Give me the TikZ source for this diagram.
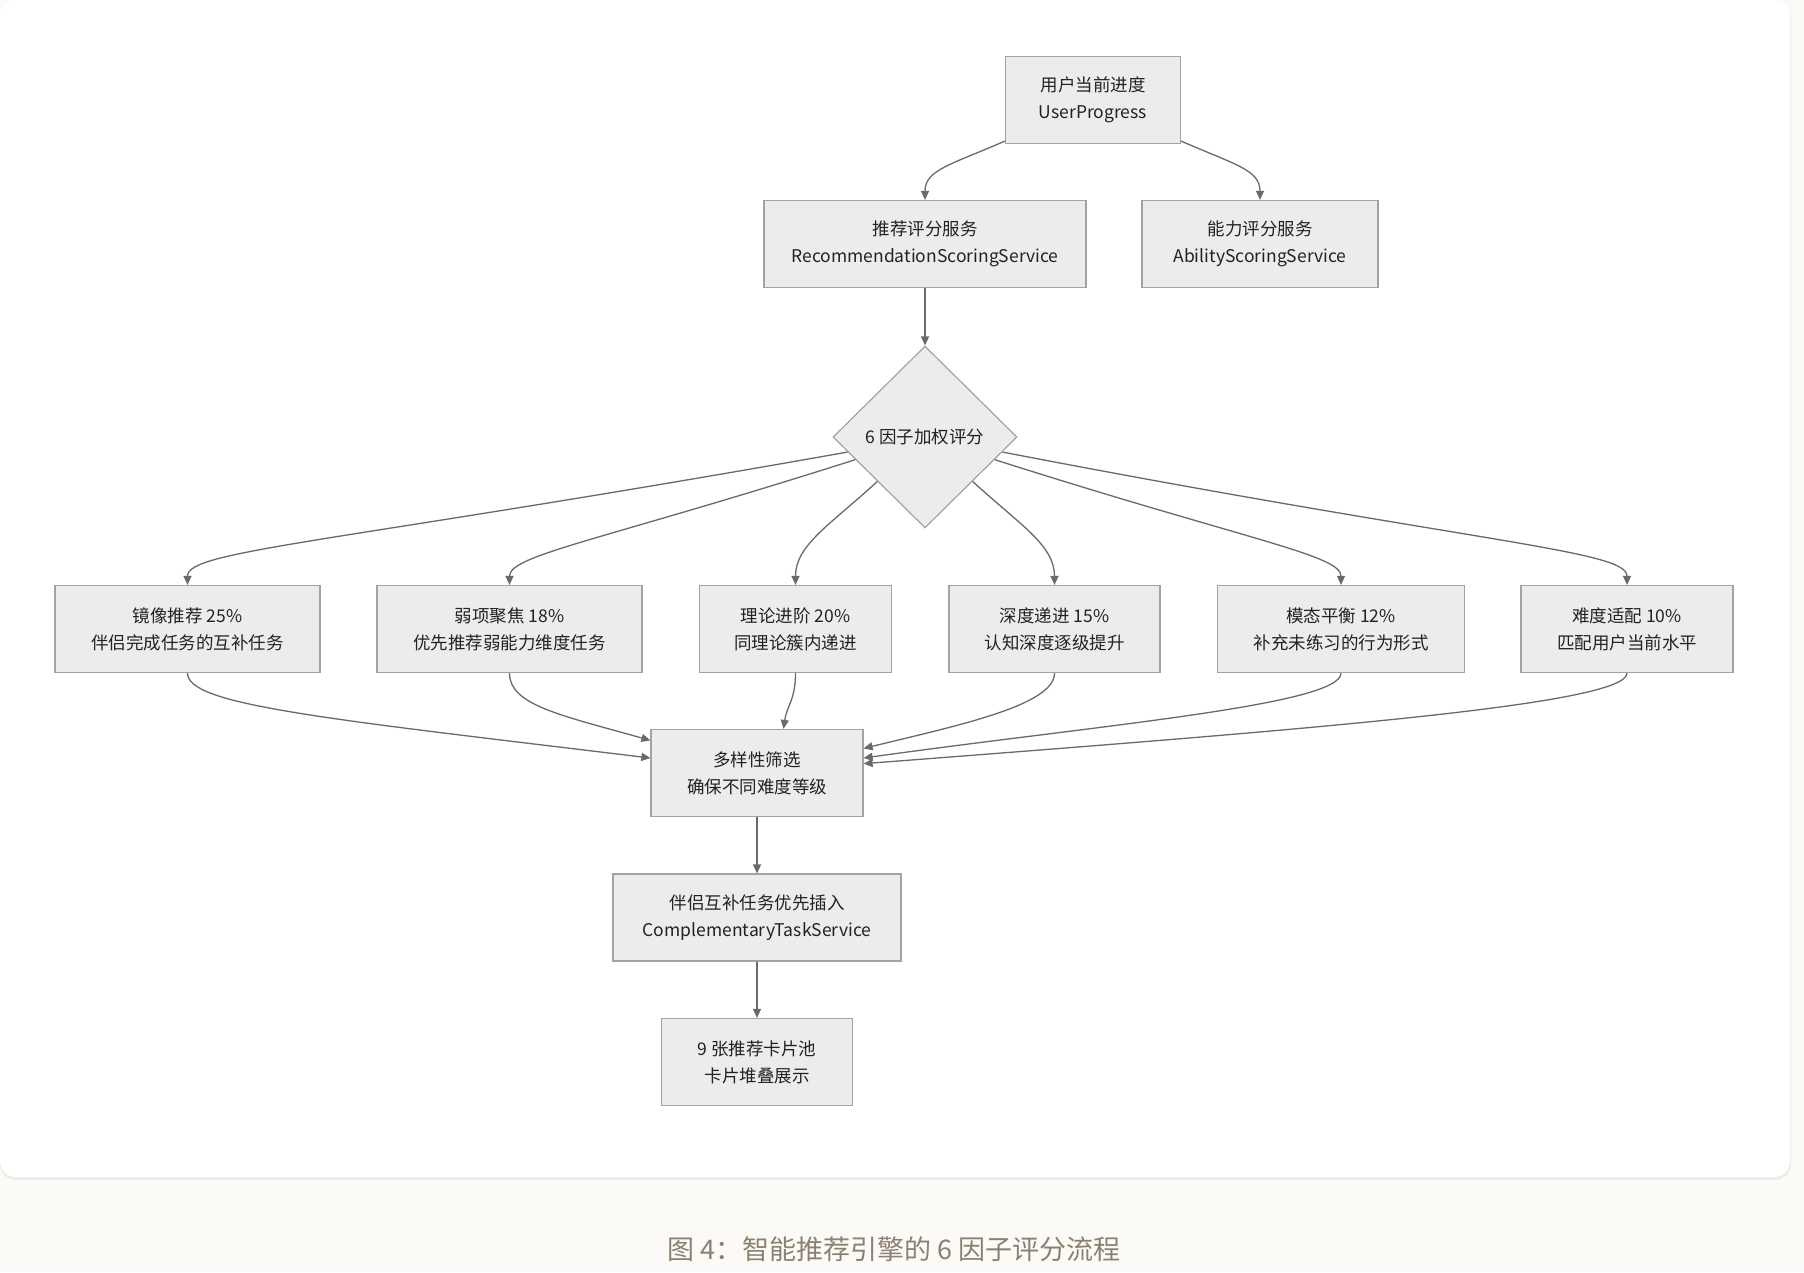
\documentclass[tikz,border=0pt]{standalone}
\usepackage{fontspec}
\setmainfont{Noto Sans CJK SC}
\usetikzlibrary{shapes.geometric,arrows.meta}
\definecolor{pagebg}{HTML}{FBFAF7}
\definecolor{cardshadow}{HTML}{EFECE6}
\definecolor{nodefill}{HTML}{ECECEC}
\definecolor{nodeline}{HTML}{A3A3A3}
\definecolor{nodetext}{HTML}{222222}
\definecolor{edgecol}{HTML}{6A6A6A}
\definecolor{captext}{HTML}{8C8070}
\begin{document}
\begin{tikzpicture}[x=1pt,y=-1pt,
  box/.style={draw=nodeline, fill=nodefill, line width=1.2pt, align=center,
    inner xsep=16pt, minimum height=87pt, text=nodetext,
    font=\fontsize{17.5}{27}\selectfont},
  decision/.style={diamond, draw=nodeline, fill=nodefill, line width=1.2pt,
    inner sep=0pt, minimum width=184pt, minimum height=182pt, text=nodetext,
    font=\fontsize{17.5}{27}\selectfont},
  arr/.style={draw=edgecol, line width=1.3pt, -{Triangle[length=9pt,width=8pt]}}]
\useasboundingbox [fill=pagebg] (0,0) rectangle (1804,1272);
\fill [cardshadow, rounded corners=16pt] (0,3) rectangle (1791,1180);
\fill [white, rounded corners=16pt] (0,0) rectangle (1790,1177);

\node [box, minimum width=175pt] (up) at (1093,100) {用户当前进度\\UserProgress};
\node [box, minimum width=322pt] (rs) at (925,244) {推荐评分服务\\RecommendationScoringService};
\node [box, minimum width=236pt] (as) at (1260,244) {能力评分服务\\AbilityScoringService};
\node [decision] (d) at (925,437) {6 因子加权评分};
\node [box, minimum width=265pt] (f1) at (187.5,629) {镜像推荐 25\%\\伴侣完成任务的互补任务};
\node [box, minimum width=265pt] (f2) at (509.5,629) {弱项聚焦 18\%\\优先推荐弱能力维度任务};
\node [box, minimum width=192pt] (f3) at (795.5,629) {理论进阶 20\%\\同理论簇内递进};
\node [box, minimum width=211pt] (f4) at (1054.5,629) {深度递进 15\%\\认知深度逐级提升};
\node [box, minimum width=247pt] (f5) at (1341,629) {模态平衡 12\%\\补充未练习的行为形式};
\node [box, minimum width=212pt] (f6) at (1627,629) {难度适配 10\%\\匹配用户当前水平};
\node [box, minimum width=212pt] (div) at (757,773) {多样性筛选\\确保不同难度等级};
\node [box, minimum width=288pt] (ct) at (757,917.5) {伴侣互补任务优先插入\\ComplementaryTaskService};
\node [box, minimum width=191pt] (pool) at (757,1062) {9 张推荐卡片池\\卡片堆叠展示};
\node [text=captext, font=\fontsize{27}{30}\selectfont] (cap) at (894,1249) {图 4：智能推荐引擎的 6 因子评分流程};

\draw [arr] (up.205) .. controls (950,165) and (925,170) .. (rs.north);
\draw [arr] (up.335) .. controls (1236,165) and (1260,170) .. (as.north);
\draw [arr] (rs) -- (d);
\draw [arr] (d.191) .. controls (330,544) and (187.5,550) .. (f1.north);
\draw [arr] (d.198) .. controls (600,541) and (509.5,555) .. (f2.north);
\draw [arr] (d.223) .. controls (830,525) and (795.5,545) .. (f3.north);
\draw [arr] (d.317) .. controls (1020,525) and (1054.5,545) .. (f4.north);
\draw [arr] (d.342) .. controls (1250,541) and (1341,555) .. (f5.north);
\draw [arr] (d.349) .. controls (1480,544) and (1627,550) .. (f6.north);
\draw [arr] (f1.south) .. controls (187.5,705) and (320,718) .. (div.172);
\draw [arr] (f2.south) .. controls (509.5,705) and (560,715) .. (div.163);
\draw [arr] (f3.south) .. controls (795.5,700) and (787,705) .. (div.59);
\draw [arr] (f4.south) .. controls (1054.5,705) and (960,725) .. (div.13);
\draw [arr] (f5.south) .. controls (1341,705) and (1100,725) .. (div.8);
\draw [arr] (f6.south) .. controls (1627,705) and (1300,730) .. (div.5);
\draw [arr] (div) -- (ct);
\draw [arr] (ct) -- (pool);
\end{tikzpicture}
\end{document}
